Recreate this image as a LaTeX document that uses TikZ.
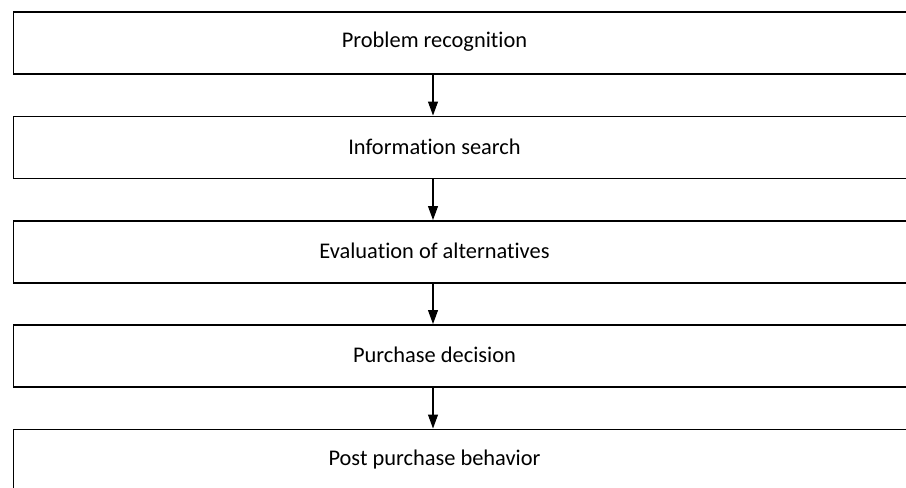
\documentclass[tikz,border=0pt]{standalone}
\usepackage{fontspec}
\setmainfont[Ligatures={NoCommon}]{Carlito}
\usetikzlibrary{arrows.meta}
\begin{document}
\begin{tikzpicture}[x=0.75pt,y=-0.75pt,
  stagebox/.style={draw=black,line width=1.2pt,fill=white,rectangle,inner sep=0pt,
    minimum width=682pt,minimum height=46.5pt,anchor=north west},
  lbl/.style={font=\fontsize{16.8}{20}\selectfont,inner sep=0pt,anchor=center},
  flow/.style={-{Triangle[width=7.5pt,length=10.5pt]},line width=0.8pt}]
\useasboundingbox (0,0) rectangle (906,487);
\clip (0,0) rectangle (906,487);
\node[stagebox] (b1) at (12.7,11) {};
\node[stagebox] (b2) at (12.7,115.5) {};
\node[stagebox] (b3) at (12.7,220) {};
\node[stagebox] (b4) at (12.7,324) {};
\node[stagebox] (b5) at (12.7,428.5) {};
\node[lbl] (l1) at (434.5,42) {Problem recognition};
\node[lbl] (l2) at (434.5,146.5) {Information search};
\node[lbl] (l3) at (434.5,251) {Evaluation of alternatives};
\node[lbl] (l4) at (434.5,355) {Purchase decision};
\node[lbl] (l5) at (434.5,459.5) {Post purchase behavior};
\draw[flow] (l1 |- b1.south) ++(-1.5,0) coordinate (a1s) -- (a1s |- b2.north);
\draw[flow] (l2 |- b2.south) ++(-1.5,0) coordinate (a2s) -- (a2s |- b3.north);
\draw[flow] (l3 |- b3.south) ++(-1.5,0) coordinate (a3s) -- (a3s |- b4.north);
\draw[flow] (l4 |- b4.south) ++(-1.5,0) coordinate (a4s) -- (a4s |- b5.north);
\end{tikzpicture}
\end{document}
